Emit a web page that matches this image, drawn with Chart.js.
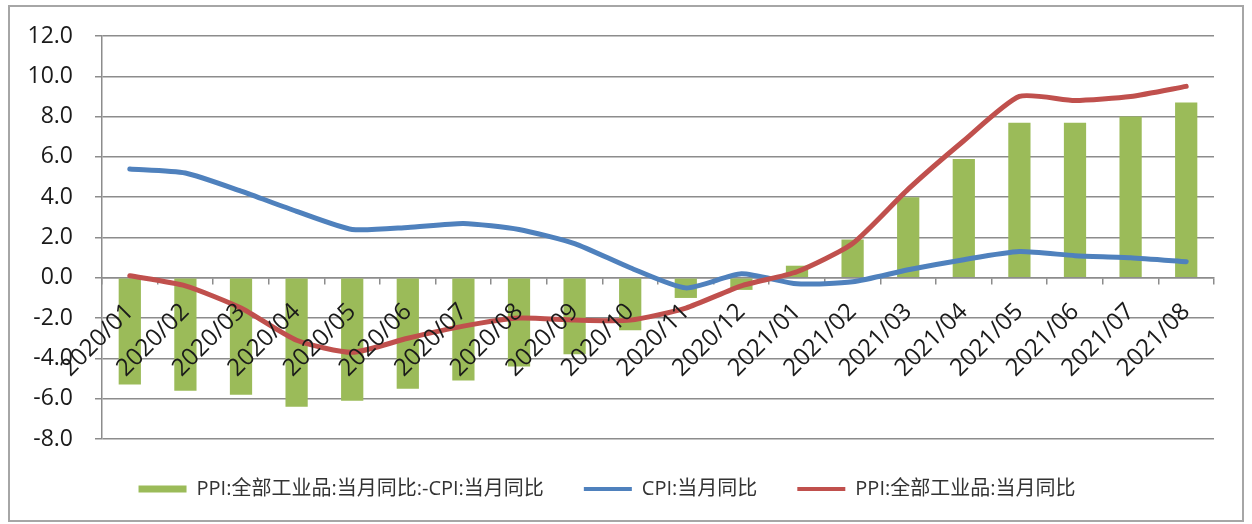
<!DOCTYPE html>
<html>
<head>
<meta charset="utf-8">
<script src="https://cdn.jsdelivr.net/npm/chart.js@4.4.1/dist/chart.umd.min.js"></script>
<style>
  html, body { margin: 0; padding: 0; background: #fff; }
  #wrap { position: relative; width: 1252px; height: 524px; }
  #frame {
    position: absolute; left: 8px; top: 5px; width: 1232px; height: 513px;
    border: 2px solid #a6a6a6; pointer-events: none;
  }
</style>
</head>
<body>
<div id="wrap">
  <canvas id="chart" width="1252" height="524"></canvas>
  <div id="frame"></div>
</div>
<script>
// monthly YoY, %
const months = [
  '2020/01', '2020/02', '2020/03', '2020/04', '2020/05', '2020/06', '2020/07',
  '2020/08', '2020/09', '2020/10', '2020/11', '2020/12', '2021/01', '2021/02',
  '2021/03', '2021/04', '2021/05', '2021/06', '2021/07', '2021/08'
];
const spread = [-5.3, -5.6, -5.8, -6.4, -6.1, -5.5, -5.1, -4.4, -3.8, -2.6,
                -1.0, -0.6, 0.6, 1.9, 4.0, 5.9, 7.7, 7.7, 8.0, 8.7];
const cpi = [5.4, 5.2, 4.3, 3.3, 2.4, 2.5, 2.7, 2.4, 1.7, 0.5,
             -0.5, 0.2, -0.3, -0.2, 0.4, 0.9, 1.3, 1.1, 1.0, 0.8];
const ppi = [0.1, -0.4, -1.5, -3.1, -3.7, -3.0, -2.4, -2.0, -2.1, -2.1,
             -1.5, -0.4, 0.3, 1.7, 4.4, 6.8, 9.0, 8.8, 9.0, 9.5];

const yMin = -8;
const yMax = 12;
const yStep = 2;

const seriesNames = ['PPI:全部工业品:当月同比:-CPI:当月同比', 'CPI:当月同比', 'PPI:全部工业品:当月同比'];

const GREEN = '#9bbb59';
const BLUE = '#4f81bd';
const RED = '#c0504d';
const GRID = '#8c8c8c';

Chart.defaults.font.family = '"Open Sans", "Noto Sans CJK SC", sans-serif';
Chart.defaults.color = '#1a1a1a';

const ctx = document.getElementById('chart').getContext('2d');
new Chart(ctx, {
  type: 'bar',
  data: {
    labels: months,
    datasets: [
      {
        type: 'bar',
        label: seriesNames[0],
        data: spread,
        backgroundColor: GREEN,
        barPercentage: 0.4,
        categoryPercentage: 1.0,
        order: 3
      },
      {
        type: 'line',
        label: seriesNames[1],
        data: cpi,
        borderColor: BLUE,
        backgroundColor: BLUE,
        borderWidth: 5,
        borderCapStyle: 'round',
        pointRadius: 0,
        tension: 0.2,
        order: 2
      },
      {
        type: 'line',
        label: seriesNames[2],
        data: ppi,
        borderColor: RED,
        backgroundColor: RED,
        borderWidth: 5,
        borderCapStyle: 'round',
        pointRadius: 0,
        tension: 0.2,
        order: 1
      }
    ]
  },
  options: {
    responsive: false,
    animation: false,
    layout: { padding: { top: 36, right: 38, left: 0, bottom: 15 } },
    plugins: {
      tooltip: { enabled: false },
      legend: {
        position: 'bottom',
        labels: {
          usePointStyle: true,
          pointStyleWidth: 48,
          boxHeight: 7,
          padding: 40,
          font: { size: 20 },
          color: '#333333',
          // keep dataset order (bar first), line samples as strokes
          generateLabels(chart) {
            const items = Chart.defaults.plugins.legend.labels.generateLabels(chart);
            items.sort((a, b) => a.datasetIndex - b.datasetIndex);
            items.forEach((item) => {
              const isBar = item.datasetIndex === 0;
              item.pointStyle = isBar ? 'rect' : 'line';
              item.lineWidth = isBar ? 0 : 4;
            });
            return items;
          }
        }
      }
    },
    scales: {
      x: {
        position: { y: 0 },
        offset: true,
        grid: {
          offset: true,
          drawOnChartArea: false,
          drawTicks: true,
          tickLength: 6,
          color: GRID,
          lineWidth: 1.5
        },
        border: { display: true, color: GRID, width: 1.5 },
        ticks: {
          z: 1,
          autoSkip: false,
          minRotation: 45,
          maxRotation: 45,
          padding: 14,
          font: { size: 24 },
          color: '#1a1a1a'
        }
      },
      y: {
        min: yMin,
        max: yMax,
        afterFit(scale) { scale.width = 102; },
        grid: { color: GRID, lineWidth: 1.5, tickLength: 7 },
        border: { display: true, color: GRID, width: 1.5 },
        ticks: {
          stepSize: yStep,
          padding: 22,
          font: { size: 23 },
          color: '#1a1a1a',
          callback: (v) => v.toFixed(1)
        }
      }
    }
  }
});
</script>
</body>
</html>
